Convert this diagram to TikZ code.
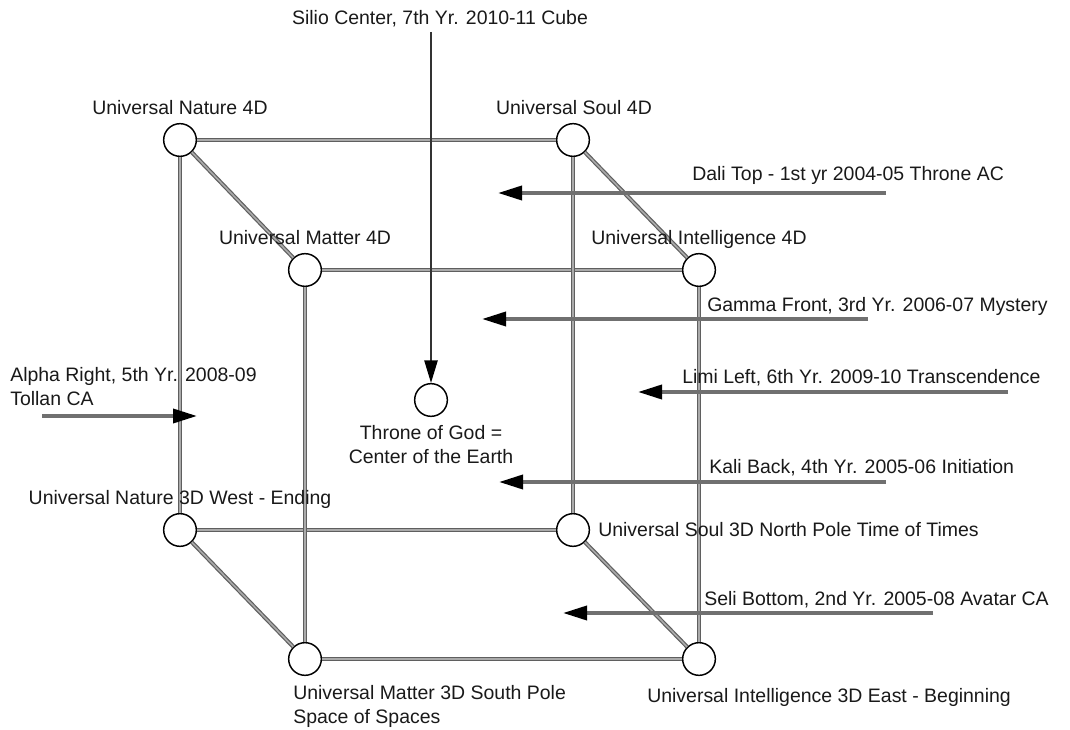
\documentclass[tikz,border=0pt]{standalone}
\usepackage{fontspec}
\setmainfont{Liberation Sans}
\usetikzlibrary{arrows.meta}

\definecolor{edgedark}{RGB}{95,95,95}
\definecolor{edgelight}{RGB}{170,170,170}
\definecolor{ptrgray}{RGB}{112,112,112}
\definecolor{txtgray}{RGB}{25,25,25}

\tikzset{
  vertex/.style={circle, draw=black, line width=1.1pt, fill=white, minimum size=24.5pt, inner sep=0pt},
  cubeedge/.style={draw=edgedark, double=edgelight, line width=0.9pt, double distance=1.2pt},
  pointer/.style={draw=ptrgray, line width=2.7pt, -{Triangle[length=18pt,width=10.5pt,black]}},
  plumb/.style={draw=black!80, line width=1.2pt, -{Triangle[length=17pt,width=10pt,black]}},
  lbl/.style={inner sep=0pt, text=txtgray, font=\fontsize{14.6}{18}\selectfont}
}

\begin{document}
\begin{tikzpicture}[x=0.75pt,y=0.75pt,yscale=-1,xscale=1]
\path (0,0) rectangle (1070,730); %set diagram size

%Shape: Circles
\node[vertex] (nat4) at (180,140) {};
\node[vertex] (soul4) at (573,140) {};
\node[vertex] (mat4) at (305,270) {};
\node[vertex] (int4) at (699,270) {};
\node[vertex] (nat3) at (180,530) {};
\node[vertex] (soul3) at (573,530) {};
\node[vertex] (mat3) at (305,659) {};
\node[vertex] (int3) at (699,659) {};
\node[vertex] (throne) at (431,400) {};

%Straight Lines: cube
\draw[cubeedge] (nat4) -- (soul4);
\draw[cubeedge] (mat4) -- (int4);
\draw[cubeedge] (nat3) -- (soul3);
\draw[cubeedge] (mat3) -- (int3);
\draw[cubeedge] (nat4) -- (nat3);
\draw[cubeedge] (soul4) -- (soul3);
\draw[cubeedge] (mat4) -- (mat3);
\draw[cubeedge] (int4) -- (int3);
\draw[cubeedge] (nat4) -- (mat4);
\draw[cubeedge] (soul4) -- (int4);
\draw[cubeedge] (nat3) -- (mat3);
\draw[cubeedge] (soul3) -- (int3);

%Straight Lines: pointers
\coordinate (siliotop) at (431,32);
\draw[plumb] (siliotop) -- (throne);
\coordinate (dalitail) at (886,193);
\coordinate (dalitip) at (498,193);
\draw[pointer] (dalitail) -- (dalitip);
\coordinate (gammatail) at (868,319);
\coordinate (gammatip) at (482,319);
\draw[pointer] (gammatail) -- (gammatip);
\coordinate (limitail) at (1008,392);
\coordinate (limitip) at (638,392);
\draw[pointer] (limitail) -- (limitip);
\coordinate (kalitail) at (886,482);
\coordinate (kalitip) at (499,482);
\draw[pointer] (kalitail) -- (kalitip);
\coordinate (selitail) at (933,613);
\coordinate (selitip) at (563,613);
\draw[pointer] (selitail) -- (selitip);
\coordinate (alphatail) at (42,416);
\coordinate (alphatip) at (197,416);
\draw[pointer] (alphatail) -- (alphatip);

% Text Node
\node[lbl, anchor=base] (silio) at (440,25) {Silio Center, 7th Yr. 2010-11 Cube};
% Text Node
\node[lbl, anchor=base] (nat4lbl) at (180,115) {Universal Nature 4D};
% Text Node
\node[lbl, anchor=base] (soul4lbl) at (574,115) {Universal Soul 4D};
% Text Node
\node[lbl, anchor=base] (mat4lbl) at (305,245) {Universal Matter 4D};
% Text Node
\node[lbl, anchor=base] (int4lbl) at (699,245) {Universal Intelligence 4D};
% Text Node
\node[lbl, anchor=base west] (dali) at (692,181) {Dali Top - 1st yr 2004-05 Throne AC};
% Text Node
\node[lbl, anchor=base west] (gamma) at (707,312) {Gamma Front, 3rd Yr. 2006-07 Mystery};
% Text Node
\node[lbl, anchor=base west] (limi) at (682,384) {Limi Left, 6th Yr. 2009-10 Transcendence};
% Text Node
\node[lbl, anchor=base west] (kali) at (709,474) {Kali Back, 4th Yr. 2005-06 Initiation};
% Text Node
\node[lbl, anchor=base west] (seli) at (704,605) {Seli Bottom, 2nd Yr. 2005-08 Avatar CA};
% Text Node
\node[lbl, anchor=west, align=left] (alpha) at (10,387) {Alpha Right, 5th Yr. 2008-09\\Tollan CA};
% Text Node
\node[lbl, anchor=center, align=center] (thronelbl) at (431,445) {Throne of God =\\Center of the Earth};
% Text Node
\node[lbl, anchor=base] (nat3lbl) at (180,504) {Universal Nature 3D West - Ending};
% Text Node
\node[lbl, anchor=base west] (soul3lbl) at (598,536) {Universal Soul 3D North Pole Time of Times};
% Text Node
\node[lbl, anchor=west, align=left] (mat3lbl) at (293,706) {Universal Matter 3D South Pole\\Space of Spaces};
% Text Node
\node[lbl, anchor=base west] (int3lbl) at (647,702) {Universal Intelligence 3D East - Beginning};

\end{tikzpicture}
\end{document}
